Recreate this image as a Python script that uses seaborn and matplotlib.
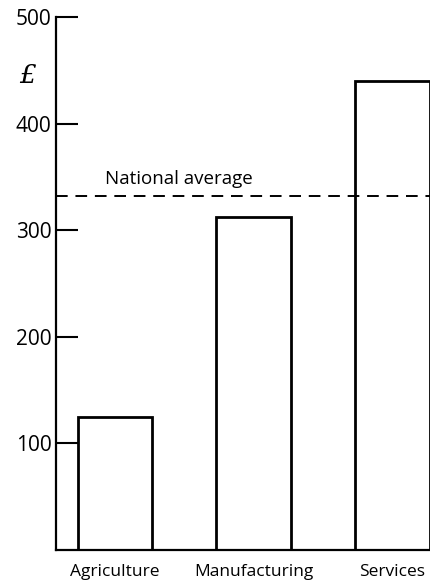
import matplotlib
matplotlib.use("Agg")
import seaborn as sns
import matplotlib.pyplot as plt

# Data
sectors = ["Agriculture", "Manufacturing", "Services"]
income = [125, 312, 440]
national_average = 332
y_ticks = [100, 200, 300, 400, 500]

sns.set_style("ticks")
plt.rcParams['font.family'] = ['Open Sans', 'DejaVu Sans']
plt.rcParams['text.color'] = 'black'
plt.rcParams['xtick.color'] = 'black'
plt.rcParams['ytick.color'] = 'black'

fig = plt.figure(figsize=(4.30, 5.87), dpi=100)
ax = fig.add_axes([0.130, 0.063, 0.870, 0.908])

sns.barplot(x=sectors, y=income, color="white", edgecolor="black",
            linewidth=2, width=0.54, saturation=1, ax=ax)

ax.axhline(national_average, color="black", lw=1.4, ls=(0, (6, 4)))
ax.text(-0.07, national_average + 8, "National average", ha="left",
        va="bottom", fontsize=13.5)

ax.set_ylim(0, 500)
ax.set_xlim(-0.426, 2.272)
ax.set_yticks(y_ticks)
ax.tick_params(axis="y", direction="in", length=16, width=1.5,
               labelsize=15, pad=3)
ax.tick_params(axis="x", length=0, labelsize=12.5, pad=10)
for side in ["top", "right"]:
    ax.spines[side].set_visible(False)
for side in ["left", "bottom"]:
    ax.spines[side].set_linewidth(1.6)
    ax.spines[side].set_color("black")

ax.text(-0.075, 0.89, "£", transform=ax.transAxes, fontsize=19,
        style="italic", family="DejaVu Serif", ha="center", va="center")
ax.set_xlabel("")
ax.set_ylabel("")

fig.savefig("out.png", dpi=100)
